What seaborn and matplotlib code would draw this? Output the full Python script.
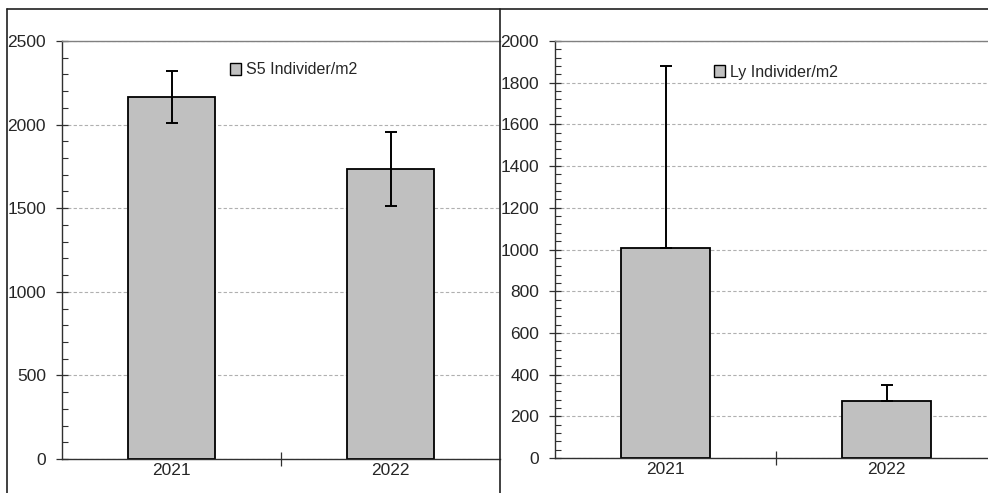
import matplotlib
matplotlib.use("Agg")
import matplotlib.pyplot as plt
import seaborn as sns
import pandas as pd
from matplotlib.patches import Patch
from matplotlib.lines import Line2D
from matplotlib.ticker import MultipleLocator

years = ["2021", "2022"]
s5_values = [2165, 1736]
s5_err = [155, 220]
ly_values = [1009, 272]
ly_err_plus = [872, 78]
s5_label = "S5 Individer/m2"
ly_label = "Ly Individer/m2"

sns.set_theme(style="white")
plt.rcParams["font.family"] = ["Liberation Sans", "DejaVu Sans"]

W, H = 988, 493
fig = plt.figure(figsize=(W / 100, H / 100), dpi=100)


def axes_px(x0, y0, x1, y1):
    return fig.add_axes([x0 / W, 1 - y1 / H, (x1 - x0) / W, (y1 - y0) / H])


def style_panel(ax, df, yerr, ymax, major, minor, label, leg_xy):
    sns.barplot(data=df, x="year", y="value", ax=ax, color="#c0c0c0",
                edgecolor="black", linewidth=1.3, width=0.40,
                saturation=1, errorbar=None, zorder=2)
    ax.errorbar(range(len(df)), df["value"], yerr=yerr, fmt="none",
                ecolor="black", elinewidth=1.4, capsize=4, capthick=1.4, zorder=3)
    ax.set_xlim(-0.5, 1.5)
    ax.set_ylim(0, ymax)
    ax.yaxis.set_major_locator(MultipleLocator(major))
    ax.yaxis.set_minor_locator(MultipleLocator(minor))
    ax.set_xticks([0.5], minor=True)
    ax.set_xlabel("")
    ax.set_ylabel("")
    ax.grid(axis="y", which="major", color="#b0b0b0", linestyle=(0, (3, 2)),
            linewidth=0.8, zorder=0)
    ax.set_axisbelow(True)
    for s in ["left", "bottom"]:
        ax.spines[s].set_color("#303030")
        ax.spines[s].set_linewidth(1.0)
    ax.spines["top"].set_color("#808080")
    ax.spines["top"].set_linewidth(1.0)
    ax.spines["right"].set_visible(False)
    ax.tick_params(axis="y", which="major", direction="inout", length=9,
                   width=0.9, color="#303030", labelsize=12.5, pad=7, left=True)
    ax.tick_params(axis="y", which="minor", direction="in", length=4,
                   width=0.8, color="#303030", left=True)
    ax.tick_params(axis="x", which="major", length=0, labelsize=12.5, pad=3)
    ax.tick_params(axis="x", which="minor", direction="inout", length=10,
                   width=0.9, color="#303030", bottom=True)
    handle = Patch(facecolor="#c0c0c0", edgecolor="black", linewidth=1.0)
    ax.legend([handle], [label], loc="center left", bbox_to_anchor=leg_xy,
              frameon=False, fontsize=11.5, handlelength=0.7, handleheight=0.7,
              handletextpad=0.3, borderaxespad=0, borderpad=0)


ax1 = axes_px(62, 41, 500, 459)
df1 = pd.DataFrame({"year": years, "value": s5_values})
style_panel(ax1, df1, s5_err, 2500, 500, 100, s5_label,
            ((230 - 62) / 438, (459 - 70) / 418))

ax2 = axes_px(555, 41, 997, 458)
df2 = pd.DataFrame({"year": years, "value": ly_values})
style_panel(ax2, df2, [[0, 0], ly_err_plus], 2000, 200, 40, ly_label,
            ((714 - 555) / 442, (458 - 72) / 417))

# chart frames
def fline(x0, y0, x1, y1):
    fig.add_artist(Line2D([x0 / W, x1 / W], [1 - y0 / H, 1 - y1 / H],
                          color="#202020", linewidth=1.2))

fline(7, 9, W, 9)
fline(7, 9, 7, H)
fline(500, 9, 500, H)

fig.savefig("out.png", dpi=100)
